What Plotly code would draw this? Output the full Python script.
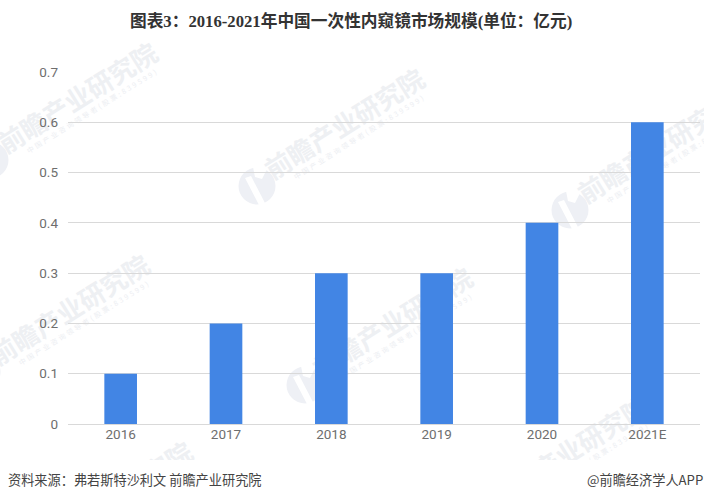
'''
2016-2021 China disposable endoscope market size bar chart
'''
import plotly.graph_objects as go

years = ['2016', '2017', '2018', '2019', '2020', '2021E']
market_size = [0.1, 0.2, 0.3, 0.3, 0.4, 0.6]
y_ticks = [0, 0.1, 0.2, 0.3, 0.4, 0.5, 0.6, 0.7]
y_labels = ['0', '0.1', '0.2', '0.3', '0.4', '0.5', '0.6', '0.7']

TITLE = '图表3：2016-2021年中国一次性内窥镜市场规模(单位：亿元)'
SOURCE = '资料来源：弗若斯特沙利文 前瞻产业研究院'
BRAND = '@前瞻经济学人APP'
WATERMARK = '前瞻产业研究院'
WM_SUB = '\u2004'.join('中国产业咨询领导者(股票:839599)')
W, H = 704, 500
CJK = 'Noto Sans CJK SC'
PLOT_L, PLOT_R, PLOT_T, PLOT_B = 68, 700, 72, 424

# watermark logo centres in page pixels, the text follows from these
wm_logos = [(-10, 160), (257, 186), (570, 210), (-18, 372), (305, 385), (481, 514), (25, 559)]


def px_x(x):
    return (x - PLOT_L) / (PLOT_R - PLOT_L)


def px_y(y):
    return (PLOT_B - y) / (PLOT_B - PLOT_T)


def page_text(text, x, y, size, color, family=CJK, anchor='center'):
    fig.add_annotation(text=text, xref='paper', yref='paper', showarrow=False,
                       x=px_x(x), y=px_y(y), xanchor=anchor, yanchor='middle',
                       font=dict(family=family, size=size, color=color))


def wm_label(text, x, y, size, color):
    # a shape label stays behind the bars, an annotation would not
    fig.add_shape(type='rect', xref='paper', yref='paper', layer='below',
                  x0=px_x(x - 120), x1=px_x(x + 120), y0=px_y(y + 20), y1=px_y(y - 20),
                  line_width=0, fillcolor='rgba(0,0,0,0)',
                  label=dict(text=text, textangle=-32, textposition='middle center',
                             font=dict(family=CJK, size=size, color=color)))


fig = go.Figure()
fig.add_trace(go.Bar(x=years, y=market_size, marker_color='#4285e4', marker_line_width=0))

for lx, ly in wm_logos:
    fig.add_shape(type='circle', xref='paper', yref='paper', layer='below',
                  x0=px_x(lx - 18.5), x1=px_x(lx + 18.5), y0=px_y(ly + 18.5), y1=px_y(ly - 18.5),
                  fillcolor='#eef0f5', line_width=0)
    # white cut-outs of the logo
    for cut in [[(-12, -8), (-6, -10), (9, 19), (2, 19)], [(-4, -19), (11, -19), (5, -7), (-2, -9)]]:
        path = 'M' + ' L'.join(f'{px_x(lx + dx):.4f},{px_y(ly + dy):.4f}' for dx, dy in cut) + ' Z'
        fig.add_shape(type='path', path=path, xref='paper', yref='paper', layer='below',
                      fillcolor='white', line_width=0)
    wm_label('<b>' + WATERMARK + '</b>', lx + 89, ly - 60, 26, '#eef0f3')
    wm_label(WM_SUB, lx + 102, ly - 48, 7, '#eceef2')

# the footer strip hides the watermarks that run off the chart image
fig.add_shape(type='rect', xref='paper', yref='paper', layer='below',
              x0=px_x(0), x1=px_x(W), y0=px_y(H), y1=px_y(460), fillcolor='white', line_width=0)

page_text('<b>' + TITLE + '</b>', 351, 21, 16.7, '#333333', 'Liberation Serif, ' + CJK)
page_text(SOURCE, 6, 479, 13.2, '#444444', anchor='left')
page_text(BRAND, 705, 479, 13.2, '#444444', anchor='right')

fig.update_layout(
    width=W, height=H, margin=dict(l=PLOT_L, r=W - PLOT_R, t=PLOT_T, b=H - PLOT_B),
    paper_bgcolor='white', plot_bgcolor='rgba(0,0,0,0)',
    bargap=0.69, showlegend=False,
    font=dict(family='Roboto', size=13, color='#6e6e6e'),
)
fig.update_xaxes(showgrid=False, showline=False, ticks='', tickfont=dict(size=13.5, color='#6e6e6e'))
fig.update_yaxes(range=[0, 0.7], tickvals=y_ticks, ticktext=y_labels, gridcolor='#d9d9d9',
                 gridwidth=1, zeroline=True, zerolinecolor='#d9d9d9', zerolinewidth=1,
                 ticks='', tickfont=dict(size=13.5, color='#6e6e6e'), ticklabelstandoff=9)

fig.write_html('out.html', config={'displayModeBar': False},
               post_script="document.body.style.margin='0';")
